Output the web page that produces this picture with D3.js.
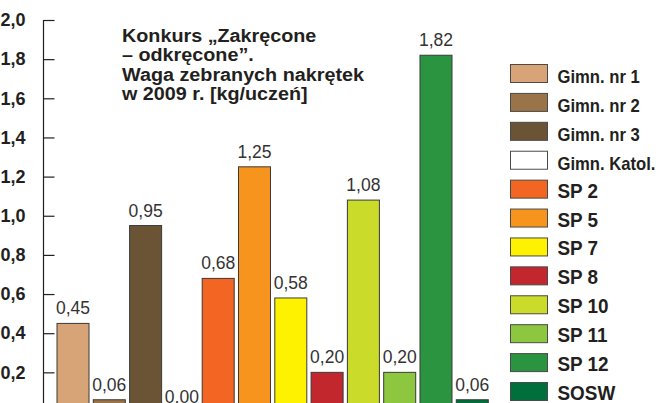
<!DOCTYPE html>
<html>
<head>
<meta charset="utf-8">
<script src="https://cdn.jsdelivr.net/npm/d3@7"></script>
<style>
  html, body { margin: 0; padding: 0; background: #fff; }
  svg { display: block; }
  text { font-family: "Liberation Sans", Arial, Helvetica, sans-serif; }
</style>
</head>
<body>
<svg id="chart" width="659" height="403"></svg>
<script>
// ---- data ----
const categories = ["Gimn. nr 1", "Gimn. nr 2", "Gimn. nr 3", "Gimn. Katol.", "SP 2", "SP 5", "SP 7", "SP 8", "SP 10", "SP 11", "SP 12", "SOSW"];
const values = [0.45, 0.06, 0.95, 0.00, 0.68, 1.25, 0.58, 0.20, 1.08, 0.20, 1.82, 0.06];
const colors = ["#d6a477", "#9a7448", "#6b5436", "#ffffff", "#f26522", "#f7941d", "#fff200", "#c1272d", "#cadb2a", "#8dc63f", "#2a9440", "#006f3b"];
const yTicks = [0.2, 0.4, 0.6, 0.8, 1.0, 1.2, 1.4, 1.6, 1.8, 2.0];
const titleLines = ["Konkurs „Zakręcone", "– odkręcone”.", "Waga zebranych nakrętek", "w 2009 r. [kg/uczeń]"];

const svg = d3.select("#chart");
const fmt = v => d3.format(".1f")(v).replace(".", ",");
const fmt2 = v => d3.format(".2f")(v).replace(".", ",");

const y = d3.scaleLinear().domain([0, 2]).range([411.5, 20]);
const x = d3.scaleBand().domain(categories).range([57, 488.3]).paddingInner(0.118).paddingOuter(0);

// y axis
const axis = d3.axisLeft(y).tickValues(yTicks).tickFormat(fmt).tickSizeOuter(0).tickSizeInner(-11).tickPadding(18);
const gAxis = svg.append("g").attr("transform", "translate(43.5,0)").call(axis);
gAxis.select(".domain").attr("stroke", "#231f20").attr("stroke-width", 1.2).attr("d", "M0,20V403");
gAxis.selectAll(".tick line").attr("stroke", "#231f20").attr("stroke-width", 1.2);
gAxis.selectAll(".tick text")
  .attr("fill", "#231f20")
  .attr("font-size", 18)
  .attr("font-weight", "bold")
  .attr("font-family", "Liberation Sans, Arial, sans-serif");

// bars
svg.append("g").selectAll("rect").data(categories).join("rect")
  .attr("x", d => x(d))
  .attr("y", (d, i) => y(values[i]))
  .attr("width", x.bandwidth())
  .attr("height", (d, i) => y(0) - y(values[i]))
  .attr("fill", (d, i) => colors[i])
  .attr("stroke", "#3a3a3a")
  .attr("stroke-width", 1);

// value labels
svg.append("g").selectAll("text").data(categories).join("text")
  .attr("x", d => x(d) + x.bandwidth() / 2)
  .attr("y", (d, i) => y(values[i]) - 9)
  .attr("text-anchor", "middle")
  .attr("font-size", 17.5)
  .attr("fill", "#333")
  .text((d, i) => fmt2(values[i]));

// title (one text per line)
svg.append("g").selectAll("text").data(titleLines).join("text")
  .attr("transform", (d, i) => `translate(122,${42 + i * 19.3}) scale(1.13,1)`)
  .attr("font-size", 17.5).attr("font-weight", "bold").attr("fill", "#231f20")
  .text(d => d);

// legend
const legY = d3.scaleLinear().domain([0, 11]).range([64, 382]);
const leg = svg.append("g").selectAll("g").data(categories).join("g")
  .attr("transform", (d, i) => `translate(510.5,${legY(i) + 0.5})`);
leg.append("rect").attr("width", 37).attr("height", 18)
  .attr("fill", (d, i) => colors[i]).attr("stroke", "#4a4a4a").attr("stroke-width", 1);
leg.append("text")
  .attr("transform", d => d.startsWith("Gimn") ? "translate(47,18.5) scale(0.9,1)" : "translate(47,17.5) scale(0.9,1)")
  .attr("font-size", d => d.startsWith("Gimn") ? 18.5 : 21)
  .attr("font-weight", "bold")
  .attr("fill", "#231f20")
  .text(d => d);
</script>
</body>
</html>
